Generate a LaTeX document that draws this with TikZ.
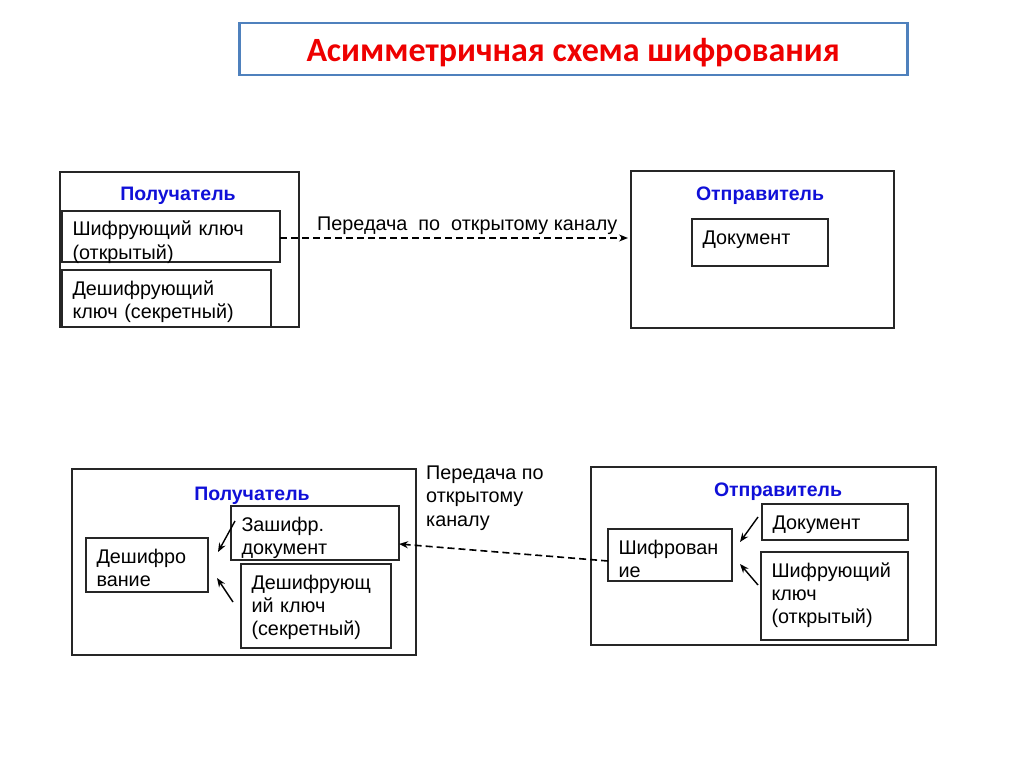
\documentclass[tikz,border=0pt]{standalone}
\usepackage{fontspec}
\setmainfont{Liberation Sans}
\newfontfamily\titlefont{Carlito}
\usepackage{xcolor}
\usepackage{tikz}
\usetikzlibrary{calc,arrows.meta,positioning}
\definecolor{redt}{HTML}{EE0000}
\definecolor{bluet}{HTML}{1010D8}
\definecolor{frameb}{HTML}{4F81BD}
\definecolor{linek}{HTML}{262626}
\tikzset{
  frame/.style={draw=linek,line width=1.2pt,anchor=north west,inner sep=0pt,outer sep=0pt},
  box/.style={draw=linek,line width=1.2pt,anchor=north west,align=left,inner xsep=10.5pt,
    inner ysep=0pt,outer sep=0pt,text height=25pt,font=\fontsize{19.8}{23.3}\selectfont},
  head/.style={font=\fontsize{19.5}{22}\selectfont\bfseries,text=bluet,inner sep=0pt,anchor=base},
  txt/.style={font=\fontsize{19.8}{23.3}\selectfont,align=left,inner sep=0pt,anchor=base west},
  ar/.style={-{Stealth[length=9pt,width=7pt]},line width=1.4pt,black},
  dar/.style={-{Stealth[length=9pt,width=7pt]},line width=1.6pt,black,dash pattern=on 7pt off 4pt}
}
\begin{document}
\begin{tikzpicture}[x=1pt,y=-1pt]
\useasboundingbox (0,0) rectangle (1024,767);
\fill[white] (0,0) rectangle (1024,767);
% title
\node[draw=frameb,line width=2.5pt,anchor=north west,minimum width=668pt,
  text height=38pt,text depth=14pt,inner sep=0pt,
  font=\titlefont\fontsize{34}{36}\selectfont\bfseries,text=redt] (title) at (238,22)
  {Асимметричная схема шифрования};
% first scheme
\node[frame,minimum width=239pt,minimum height=155pt] (rcv1) at (60,172) {};
\node[head] (rcvh1) at (178,201) {Получатель};
\node[box,text width=197pt,text depth=26pt] (pubkey1) at (62,211) {Шифрующий ключ\\(открытый)};
\node[box,text width=188pt,text depth=32pt] (seckey1) at (62,270) {Дешифрующий\\ключ (секретный)};
\node[frame,minimum width=263pt,minimum height=157pt] (snd1) at (631,171) {};
\node[head] (sndh1) at (760,201) {Отправитель};
\node[box,text width=115pt,text depth=22pt] (doc1) at (692,219) {Документ};
\node[txt] (chan1) at (317,230) {Передача\ \ по\ \ открытому каналу};
\draw[dar] ([yshift=-1.5pt]pubkey1.east) -- ([xshift=-3pt,yshift=-1.5pt]snd1.west |- pubkey1.east);
% second scheme
\node[frame,minimum width=344pt,minimum height=186pt] (rcv2) at (72,469) {};
\node[head] (rcvh2) at (252,500) {Получатель};
\node[box,text width=147pt,text depth=29pt] (encdoc) at (231,506) {Зашифр.\\документ};
\node[box,text width=101pt,text depth=29pt] (decr) at (86,538) {Дешифро\\вание};
\node[box,text width=129pt,text depth=59pt] (seckey2) at (241,564) {Дешифрующ\\ий ключ\\(секретный)};
\node[frame,minimum width=345pt,minimum height=178pt] (snd2) at (591,467) {};
\node[head] (sndh2) at (778,496) {Отправитель};
\node[box,text width=103pt,text depth=27pt] (encr) at (608,529) {Шифрован\\ие};
\node[box,text width=125pt,text depth=11pt] (doc2) at (762,504) {Документ};
\node[box,text width=126pt,text depth=63pt] (pubkey2) at (761,552) {Шифрующий\\ключ\\(открытый)};
\node[txt] (chan2) at (426,526) {Передача по\\открытому\\каналу};
\draw[dar] ([yshift=-6pt]encr.west) -- ([yshift=-11pt]encdoc.east);
\draw[ar] ($(encdoc.west)+(4,-12)$) -- ($(decr.east)+(10,-13)$);
\draw[ar] ($(seckey2.west)+(-8,-4)$) -- ($(decr.east)+(9,13)$);
\draw[ar] ($(doc2.west)+(-4,-5)$) -- ($(encr.east)+(8,-13)$);
\draw[ar] ($(pubkey2.west)+(-3,-11)$) -- ($(encr.east)+(8,9)$);
\end{tikzpicture}
\end{document}
